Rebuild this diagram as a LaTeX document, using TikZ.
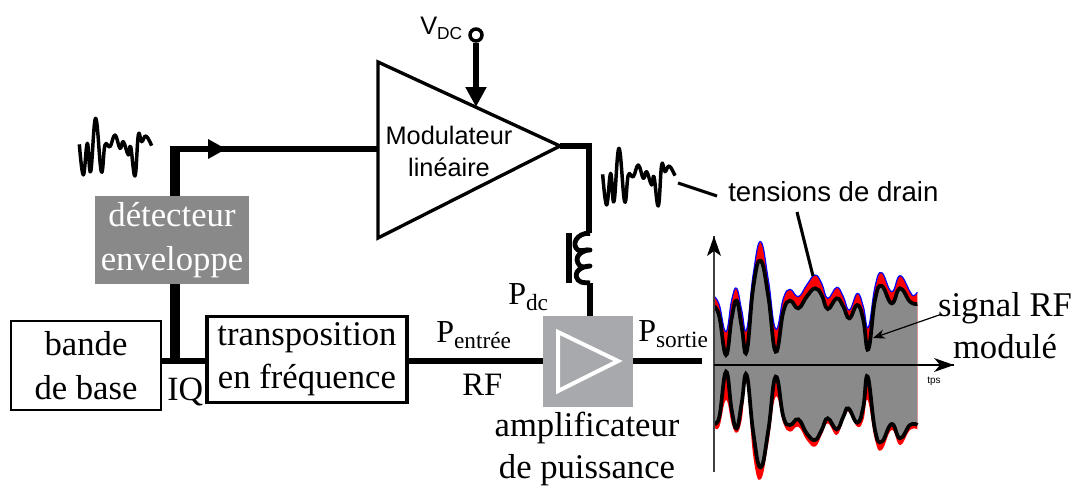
\documentclass[tikz,border=0pt]{standalone}
\usepackage{fontspec}
\setmainfont{Liberation Serif}
\newfontfamily\arialf{Liberation Sans}
\usetikzlibrary{arrows.meta,calc}
\definecolor{boxgrey}{HTML}{898989}
\definecolor{pagrey}{HTML}{A7A9AC}
\definecolor{wavegrey}{HTML}{8A8A8A}
\newcommand{\fs}[1]{\fontsize{#1}{#1}\selectfont}
\newcommand{\blueup}{(43,200)(58,225)(78,305)(95,210)(110,175)(125,240)(140,298)(160,130)(182,35)(205,150)(227,297)(250,205)(270,178)(295,200)(320,165)(345,135)(365,160)(383,205)(410,172)(430,200)(448,240)(472,190)(490,230)(505,292)(525,170)(545,128)(575,185)(600,137)(630,185)(640,197)(652,187)}
\newcommand{\blackup}{(43,230)(58,260)(78,375)(95,265)(110,212)(125,290)(140,365)(160,170)(182,92)(205,200)(227,365)(250,245)(270,212)(295,235)(320,200)(345,175)(365,195)(383,237)(410,205)(430,230)(448,265)(472,225)(490,270)(505,358)(525,210)(545,168)(575,220)(600,175)(630,215)(652,222)}
\newcommand{\blacklow}{(652,585)(630,585)(600,625)(575,582)(545,635)(525,600)(503,440)(490,530)(472,578)(445,535)(430,560)(410,598)(383,565)(365,600)(345,630)(320,610)(295,568)(270,585)(250,560)(227,440)(205,600)(182,712)(160,610)(140,435)(125,520)(110,595)(95,540)(78,425)(58,560)(43,577)}
\newcommand{\redlow}{(652,598)(630,600)(600,645)(575,600)(545,660)(525,630)(503,510)(490,570)(472,590)(445,545)(430,570)(410,615)(383,580)(365,615)(345,650)(320,630)(295,590)(270,605)(250,580)(227,500)(205,640)(182,748)(160,680)(140,460)(125,570)(110,608)(95,580)(78,510)(58,590)(43,592)}
\newcommand{\fillbetween}[3]{\edef\tmpcmd{\noexpand\fill[#3] plot[smooth,tension=.75] coordinates{#1} -- plot[smooth,tension=.75] coordinates{#2} -- cycle;}\tmpcmd}
\newcommand{\drawcurve}[2]{\edef\tmpcmd{\noexpand\draw[#2] plot[smooth,tension=.75] coordinates{#1};}\tmpcmd}
\newcommand{\smallwave}{\draw[wavy] plot[smooth,tension=.7] coordinates{(58,133)(70,225)(82,130)(92,215)(107,55)(124,215)(135,135)(150,140)(165,105)(180,145)(190,125)(205,165)(212,140)(225,228)(235,105)(245,125)(258,108)(275,137)};}
\tikzset{
  wavy/.style={line width=2.6pt,line join=round},
  blockbox/.style={draw,line width=#1,inner sep=0pt,align=center,anchor=center},
  lbl/.style={inner sep=0pt,align=center,font=\fs{26}},
  sanslbl/.style={inner sep=0pt,align=center,font=\arialf\fs{19}},
  leader/.style={line width=2.3pt},
  axisline/.style={draw=black!75,line width=1.3pt}
}
\begin{document}
\begin{tikzpicture}[x=0.75pt,y=-0.75pt]
\useasboundingbox (0,0) rectangle (1080,486);
% waveform
\begin{scope}[shift={(700,230)},x=0.25pt,y=-0.25pt]
  \fillbetween{\blueup}{\redlow}{red}
  \drawcurve{\blueup}{blue,line width=.9pt}
  \fillbetween{\blackup}{\blacklow}{wavegrey}
  \drawcurve{\blackup}{line width=2.8pt}
  \drawcurve{\blacklow}{line width=2.8pt}
\end{scope}
% coordinates
\coordinate (triA) at (378,62);
\coordinate (triB) at (378,238);
\coordinate (triC) at (560,146);
\coordinate (corner1) at (175,149);
\coordinate (inTri) at (378,149);
\coordinate (split) at (175,361);
\coordinate (wireCorner) at (589,146);
\coordinate (coilTop) at (590,233);
\coordinate (coilBot) at (590,283);
\coordinate (vdcEnd) at (476,107);
\coordinate (axO) at (714,365);
\coordinate (axTop) at (714,236);
\coordinate (axBot) at (714,472);
\coordinate (axRight) at (954,365);
\coordinate (outEnd) at (702,361);
% nodes
\node[blockbox=2.2pt,minimum width=150*0.75pt,minimum height=89*0.75pt,lbl] (bb) at (86,365.5) {bande\\[7pt]de base};
\node[blockbox=2.3pt,minimum width=200*0.75pt,minimum height=86*0.75pt,lbl] (tr) at (307,359.5) {transposition\\[6.3pt]en fréquence};
\node[fill=boxgrey,text=white,minimum width=154*0.75pt,minimum height=88*0.75pt,lbl] (det) at (172,240) {détecteur\\[7pt]enveloppe};
\node[fill=pagrey,minimum width=90*0.75pt,minimum height=91*0.75pt,inner sep=0pt] (pa) at (588,361.5) {};
\node[circle,draw,line width=2.6pt,inner sep=0pt,minimum size=9pt,fill=white] (vdc) at (476,35) {};
% triangle
\draw[line width=2.5pt,line join=miter] (triA) -- (triB) -- (triC) -- cycle;
\draw[white,line width=3pt,line join=miter] (558,332) -- (558,391) -- (618,361) -- cycle;
% wires
\draw[line width=7pt] (split) -- (det.south -| split);
\draw[line width=7pt] (det.north -| corner1) -- ($(corner1)+(0,-3)$);
\draw[line width=4.5pt] ($(corner1)+(-5,0)$) -- (inTri);
\fill (208,139) -- (226,149) -- (208,159) -- cycle;
\draw[line width=5pt] (bb.east |- split) -- (tr.west |- split);
\draw[line width=5.2pt] (tr.east |- 0,361) -- (pa.west |- 0,361);
\draw[line width=5.2pt] (pa.east |- outEnd) -- (outEnd);
\draw[line width=4.4pt,line join=miter] (triC) -- (wireCorner) -- (wireCorner |- coilTop) -- (coilTop);
\draw[line width=4.8pt] (coilBot) -- (pa.north -| coilBot);
\draw[line width=3.6pt,line join=round] (coilTop) .. controls (576,233) and (571,245) .. (578,250) .. controls (582,252) and (586,249) .. (590,250) .. controls (582,250) and (572,257) .. (580,266) .. controls (584,268) and (587,266) .. (590,266) .. controls (582,266) and (572,272) .. (578,280) .. controls (582,284) and (586,282) .. (coilBot);
\draw[line width=4.6pt] (569,233) -- (569,283);
\draw[line width=5pt,-{Triangle[length=15pt,width=15pt]}] (vdc) -- (vdcEnd);
% axes
\draw[axisline] (axBot) -- (axTop);
\fill (714,236) -- (721,256) -- (714,251) -- (707,256) -- cycle;
\draw[line width=1.1pt] (axO) -- (axRight);
\fill (954,365) -- (934,358) -- (940,365) -- (934,372) -- cycle;
% small waves
\begin{scope}[shift={(60,100)},x=0.25pt,y=-0.25pt]\smallwave\end{scope}
\begin{scope}[shift={(583.3,130)},x=0.25pt,y=-0.25pt]\smallwave\end{scope}
% leaders
\coordinate (l1a) at (678,183); \coordinate (l1b) at (717,196);
\draw[leader] (l1a) -- (l1b);
\coordinate (l2a) at (797,212); \coordinate (l2b) at (813,276);
\draw[leader] (l2a) -- (l2b);
\coordinate (l3a) at (942,314); \coordinate (l3b) at (873,338);
\draw[line width=.9pt,-{Stealth[length=9pt,width=7pt]}] (l3a) -- (l3b);
% labels
\node[lbl,anchor=base west] (iq) at (167,400) {\fs{25.5}IQ};
\node[sanslbl,anchor=center] (mod) at (449,151) {Modulateur\\[5pt]linéaire};
\node[inner sep=0pt,anchor=base west,font=\arialf\fs{19}] (vd) at (420,34) {V\raisebox{-3.75pt}{\fs{13}DC}};
\node[inner sep=0pt,anchor=base west,font=\arialf\fs{20.7}] (td) at (728,201) {tensions de drain};
\node[lbl,anchor=base west] (pdc) at (508,304) {\fs{24}P\raisebox{-5pt}{\fs{17.5}dc}};
\node[lbl,anchor=base west] (pin) at (436,342) {\fs{24}P\raisebox{-4.5pt}{\fs{17.5}entrée}};
\node[lbl,anchor=base west] (rf) at (462,395) {\fs{24.5}RF};
\node[lbl,anchor=base west] (pout) at (638,341) {\fs{24}P\raisebox{-5pt}{\fs{17.5}sortie}};
\node[lbl,anchor=center] (amp) at (587,449) {amplificateur\\[5.5pt]de puissance};
\node[lbl,anchor=center] (sig) at (1005,326) {signal RF\\[5.5pt]modulé};
\node[inner sep=0pt,font=\arialf\fs{7.5}] (tps) at (934,381) {tps};
\end{tikzpicture}
\end{document}
